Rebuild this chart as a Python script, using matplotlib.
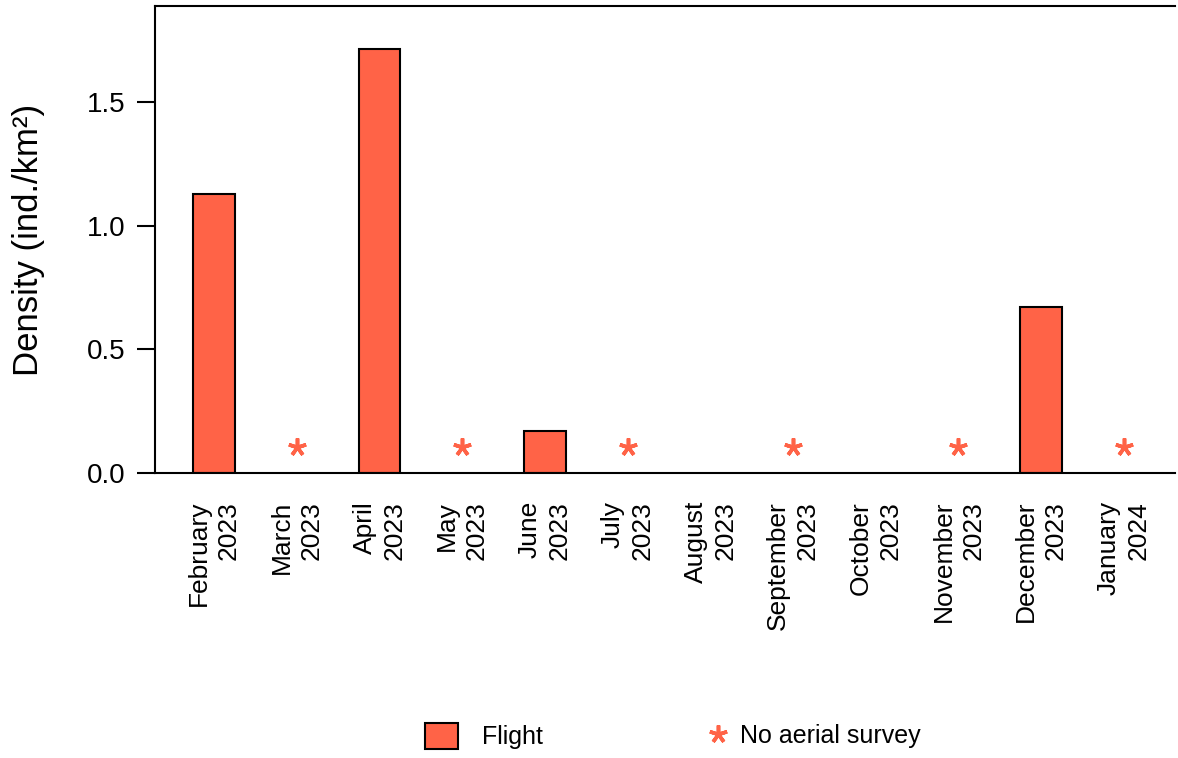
import numpy as np
import matplotlib
matplotlib.use("Agg")
import matplotlib.pyplot as plt
from matplotlib.patches import Patch
from matplotlib.lines import Line2D

plt.rcParams["font.family"] = ["Liberation Sans", "DejaVu Sans"]

# monthly survey results
months = ["February\n2023", "March\n2023", "April\n2023", "May\n2023",
          "June\n2023", "July\n2023", "August\n2023", "September\n2023",
          "October\n2023", "November\n2023", "December\n2023", "January\n2024"]
density = [1.13, 0.0, 1.715, 0.0, 0.17, 0.0, 0.0, 0.0, 0.0, 0.0, 0.67, 0.0]
no_survey = [False, True, False, True, False, True, False, True, False, True, False, True]
yticks = [0.0, 0.5, 1.0, 1.5]

BAR_COLOR = "#FF6347"
STAR_Y = 0.105
STAR = dict(linestyle="none", marker=(5, 2, 0), markersize=13,
            markeredgewidth=2.6, color=BAR_COLOR)

fig = plt.figure(figsize=(11.78, 7.58), dpi=100)
ax = fig.add_axes([0.1316, 0.376, 0.866, 0.616])

x = np.arange(len(months))
dens = np.array(density)
flown = dens > 0
ax.bar(x[flown], dens[flown], width=0.5, color=BAR_COLOR,
       edgecolor="black", linewidth=1.5, zorder=2)

xs = x[np.array(no_survey)]
ax.plot(xs, np.full(len(xs), STAR_Y), zorder=3, **STAR)

ax.set_xlim(-0.713, 11.62)
ax.set_ylim(0, 1.89)

for side in ("left", "top", "bottom"):
    ax.spines[side].set_linewidth(1.5)
ax.spines["right"].set_visible(False)

ax.set_yticks(yticks)
ax.set_yticklabels([f"{v:.1f}" for v in yticks])
ax.tick_params(axis="y", length=13, width=1.5, pad=8, labelsize=20)

ax.set_xticks(x)
ax.set_xticklabels(months, rotation=90, ha="center", va="top",
                   multialignment="right", linespacing=1.3)
ax.tick_params(axis="x", length=0, pad=20, labelsize=19)

ax.set_ylabel("Density (ind./km²)", fontsize=25)
ax.yaxis.set_label_coords(-0.108, 0.5)

# legend: two separate entries laid out along the bottom
fig.legend([Patch(facecolor=BAR_COLOR, edgecolor="black", linewidth=1.5)],
           ["Flight"], loc="center left", bbox_to_anchor=(0.3608, 0.029),
           frameon=False, fontsize=18, borderpad=0, borderaxespad=0,
           handlelength=1.32, handleheight=1.2, handletextpad=0.96)
fig.legend([Line2D([], [], **STAR)], ["No aerial survey"],
           loc="center left", bbox_to_anchor=(0.601, 0.029),
           frameon=False, fontsize=18, borderpad=0, borderaxespad=0,
           handlelength=0.8, handletextpad=0.48)

fig.savefig("out.png", dpi=100)
